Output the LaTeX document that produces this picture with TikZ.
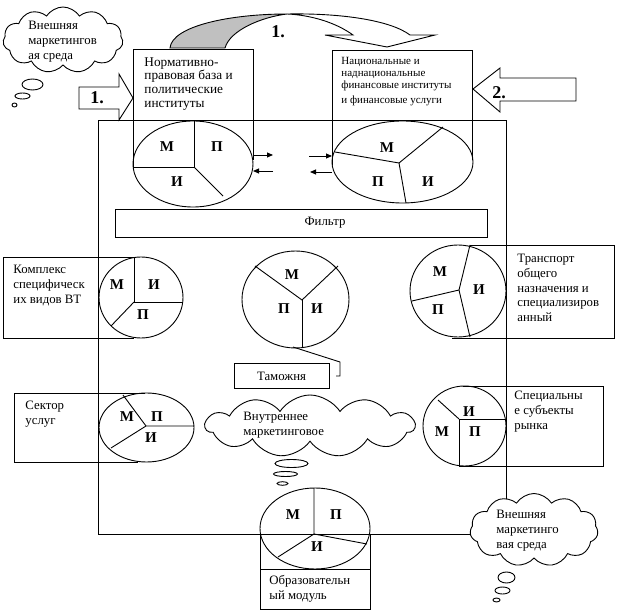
\documentclass[tikz,border=0pt]{standalone}
\usepackage{fontspec}
\setmainfont{Liberation Serif}
\usetikzlibrary{shapes.symbols,arrows.meta}
\definecolor{arrowgray}{RGB}{192,192,192}
\begin{document}
\begin{tikzpicture}[x=1pt,y=-1pt,line width=0.9pt,
  txt/.style={inner sep=0pt,align=left,anchor=north west,font=\fontsize{12.8}{14.6}\selectfont},
  txtnorm/.style={inner sep=0pt,align=left,anchor=north west,font=\fontsize{13.3}{13.7}\selectfont},
  txtsmall/.style={inner sep=0pt,align=left,anchor=north west,font=\fontsize{11}{12}\selectfont},
  lbl/.style={inner sep=0pt,font=\fontsize{15}{15}\bfseries\selectfont},
  num/.style={inner sep=0pt,font=\fontsize{18}{18}\bfseries\selectfont},
  puff/.style={cloud,draw,fill=white,cloud puffs=11,cloud puff arc=115,cloud ignores aspect,inner sep=0pt},
  bubble/.style={draw,fill=white},
  smallarrow/.style={-{Triangle[length=6pt,width=5pt]},line width=0.9pt}
]
\useasboundingbox (0,0) rectangle (618,612);

% main frame
\draw (98,120) rectangle (506,534);

% curved top arrow
\filldraw[fill=arrowgray] (170,48) .. controls (172,26) and (230,14) .. (287,14)
   .. controls (262,17) and (230,30) .. (225,48) -- cycle;
\filldraw[fill=white] (287,14) .. controls (340,13) and (390,20) .. (410,35)
   -- (435,35) -- (387,47) -- (325,35) -- (353,35)
   .. controls (335,22) and (310,15) .. (287,14) -- cycle;
\node[num] (n1top) at (278,32) {1.};

% left block arrow 1
\draw[fill=white] (79,87) -- (119,87) -- (119,74) -- (133,98) -- (119,120) -- (119,109) -- (79,109) -- cycle;
\node[num] (n1left) at (97,98) {1.};

% right block arrow 2
\draw[fill=white] (576,78) -- (500,78) -- (500,68) -- (473,89) -- (500,112) -- (500,101) -- (576,101) -- cycle;
\node[num] (n2right) at (499,93) {2.};

% top-left cloud
\node[puff,minimum width=120pt,minimum height=66pt] (cloudA) at (63,40) {};
\node[txt] (cloudAtext) at (28,21) {Внешняя\\маркетингов\\ая среда};
\draw[bubble] (32.5,84.5) ellipse [x radius=10.5, y radius=5.5];
\draw[bubble] (22.5,96) ellipse [x radius=7.5, y radius=3];
\draw[bubble] (14.5,105) ellipse [x radius=2.5, y radius=2];

% box: normative
\draw (133,167) -- (133,49) -- (253,49) -- (253,160);
\node[txtnorm] (normtext) at (144,57) {Нормативно-\\правовая база и\\политические\\институты};
% pie 1
\draw (193,164) ellipse [x radius=60, y radius=43];
\draw (194,121) -- (194,167) -- (133,167);
\draw (194,167) -- (223,196);
\node[lbl] (p1m) at (167,147) {М};
\node[lbl] (p1p) at (217,147) {П};
\node[lbl] (p1i) at (177,182) {И};
\coordinate (a1s) at (253,155); \coordinate (a1e) at (273,155);
\coordinate (a2s) at (273,171); \coordinate (a2e) at (253,171);
\draw[smallarrow] (a1s) -- (a1e);
\draw[smallarrow] (a2s) -- (a2e);

% box: national
\draw (332,165) -- (332,50) -- (472,50) -- (472,160);
\node[txtsmall] (nattext) at (341,57) {Национальные и\\наднациональные\\финансовые институты\\[3pt]и финансовые услуги};
% pie 2
\draw (402.5,162) ellipse [x radius=70.5, y radius=41];
\draw (335,152) -- (399,163) -- (443,127);
\draw (399,163) -- (406,203);
\node[lbl] (p2m) at (387,148) {М};
\node[lbl] (p2p) at (378,182) {П};
\node[lbl] (p2i) at (428,182) {И};
\coordinate (b1s) at (309,156); \coordinate (b1e) at (332,156);
\coordinate (b2s) at (332,172); \coordinate (b2e) at (310,172);
\draw[smallarrow] (b1s) -- (b1e);
\draw[smallarrow] (b2s) -- (b2e);

% filter
\node[draw,minimum width=372pt,minimum height=28pt,inner sep=0pt] (filter) at (301,223) {};
\node[inner sep=0pt,font=\fontsize{12.8}{14}\selectfont] (filtertext) at (325,223) {Фильтр};

% complex box + pie 3
\draw (134,257) -- (3,257) -- (3,338) -- (134,338);
\node[txt] (komptext) at (13,265) {Комплекс\\специфическ\\их видов ВТ};
\draw (141,297.5) ellipse [x radius=42, y radius=40.5];
\draw (134,257) -- (134,302) -- (183,302);
\draw (134,302) -- (111,326);
\node[lbl] (p3m) at (117,285) {М};
\node[lbl] (p3i) at (154,285) {И};
\node[lbl] (p3p) at (143,315) {П};

% center pie 4
\draw (295.5,299.5) ellipse [x radius=53.5, y radius=48.5];
\draw (255,266) -- (302,300) -- (338,266);
\draw (302,300) -- (302,347);
\node[lbl] (p4m) at (292,275) {М};
\node[lbl] (p4p) at (284,309) {П};
\node[lbl] (p4i) at (317,309) {И};
\draw (293,347) -- (340,362) -- (340,376) -- (336,376);
\node[draw,minimum width=95pt,minimum height=25pt,inner sep=0pt] (customs) at (281.5,375.5) {};
\node[inner sep=0pt,font=\fontsize{12.8}{14}\selectfont] (customstext) at (281.5,376) {Таможня};

% transport pie 5 + box
\draw (470,245) -- (614,245) -- (614,338) -- (452,338);
\draw (458,291) ellipse [x radius=48, y radius=46];
\draw (470,245) -- (459,290) -- (470,337);
\draw (459,290) -- (412,301);
\node[lbl] (p5m) at (440,272) {М};
\node[lbl] (p5p) at (438,310) {П};
\node[lbl] (p5i) at (479,290) {И};
\node[txt] (transtext) at (517,254) {Транспорт\\общего\\назначения и\\специализиров\\анный};

% sector pie 6 + box
\draw (145,393) -- (14,393) -- (14,462) -- (138,462);
\node[txt] (sectext) at (25,401) {Сектор\\услуг};
\draw (146.5,427.5) ellipse [x radius=47.5, y radius=34.5];
\draw (123,395) -- (146,426) -- (194,426);
\draw (146,426) -- (111,448);
\node[lbl] (p6m) at (127,417) {М};
\node[lbl] (p6p) at (157,417) {П};
\node[lbl] (p6i) at (151,438) {И};

% special subjects pie 7 + box
\draw (463,386) -- (603,386) -- (603,466) -- (459,466);
\draw (464.5,426) ellipse [x radius=41.5, y radius=40];
\draw (459,466) -- (459,419) -- (506,419);
\draw (459,419) -- (438,400);
\node[lbl] (p7i) at (469,412) {И};
\node[lbl] (p7m) at (442,432) {М};
\node[lbl] (p7p) at (475,432) {П};
\node[txt] (spectext) at (514,391) {Специальны\\е субъекты\\рынка};

% inner cloud
\node[puff,minimum width=209pt,minimum height=62pt] (cloudB) at (310,426) {};
\node[txt] (cloudBtext) at (243,412) {Внутреннее\\маркетинговое};
\draw[bubble] (291.5,463.5) ellipse [x radius=16.5, y radius=4];
\draw[bubble] (285.5,474) ellipse [x radius=12, y radius=2.5];
\draw[bubble] (282.5,483.5) ellipse [x radius=5.5, y radius=1.8];

% education pie 8 + box
\draw (260,534) -- (260,609) -- (370,609) -- (370,534);
\draw (260,569) -- (370,569);
\draw (315,528.5) ellipse [x radius=55, y radius=40.5];
\draw (314,488) -- (314,534) -- (367,544);
\draw (314,534) -- (278,557);
\node[lbl] (p8m) at (293,515) {М};
\node[lbl] (p8p) at (336,515) {П};
\node[lbl] (p8i) at (317,547) {И};
\node[txt] (edutext) at (269,575) {Образовательн\\ый модуль};

% bottom-right cloud
\node[puff,minimum width=128pt,minimum height=73pt] (cloudC) at (534,530) {};
\node[txt] (cloudCtext) at (496,510) {Внешняя\\маркетинго\\вая среда};
\draw[bubble] (506.5,577.5) ellipse [x radius=8.5, y radius=5.5];
\draw[bubble] (502.5,590.5) ellipse [x radius=7.5, y radius=3.5];
\draw[bubble] (496.5,600) ellipse [x radius=3.5, y radius=2];
\end{tikzpicture}
\end{document}
